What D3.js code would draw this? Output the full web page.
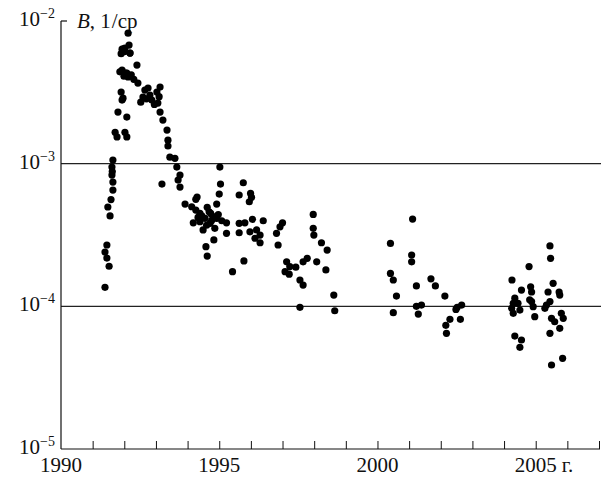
<!DOCTYPE html>
<html>
<head>
<meta charset="utf-8">
<script src="https://cdn.jsdelivr.net/npm/d3@7/dist/d3.min.js"></script>
<style>
  html, body { margin: 0; padding: 0; background: #fff; }
  svg { display: block; }
</style>
</head>
<body>
<svg id="chart" width="607" height="477"></svg>
<script>
// Observation epochs (decimal years) and measured B, 1/sr
const epoch = [
  // 1991 rise
  1991.64, 1991.61, 1991.61, 1991.64, 1991.64, 1991.48, 1991.55, 1991.45, 1991.39, 1991.45, 1991.52, 1991.39,
  1991.58, 1991.62,
  // 1992 maximum
  1991.71, 1991.77, 1992.02, 1992.08, 1991.80, 1992.08, 1991.90, 1991.96, 1991.93,
  1991.93, 1992.08, 1991.86, 1991.96, 1992.18, 1991.93, 1992.02, 1992.18, 1992.15, 1992.12, 1992.40, 1992.05,
  1991.99, 1992.12, 1991.90, 1992.22, 1992.30, 1992.00,
  // 1992-1993 decline
  1992.43, 1992.65, 1992.81, 1993.03, 1993.13, 1992.87, 1993.06, 1993.13, 1993.22, 1993.35, 1993.38, 1993.38,
  1992.59, 1992.75, 1992.52, 1992.70, 1992.95, 1993.10,
  // 1993-1994
  1993.44, 1993.60, 1993.66, 1993.76, 1993.76, 1993.19, 1993.70, 1994.30,
  // 1994-1996
  1995.04, 1995.02, 1995.76, 1995.00, 1995.63, 1995.99, 1996.02, 1995.95,
  1993.92, 1994.26, 1994.13, 1994.26, 1994.39, 1994.62, 1994.92, 1994.73, 1994.81, 1994.55,
  1994.18, 1994.39, 1994.71, 1994.92, 1995.08, 1995.23, 1994.49, 1994.86, 1995.23, 1994.83,
  1994.58, 1994.62, 1995.42, 1995.78,
  1995.63, 1995.81, 1996.05, 1996.39, 1995.63, 1995.97, 1996.18, 1996.29, 1996.13, 1996.29,
  1994.45, 1994.68, 1994.76, 1994.60, 1994.97, 1994.33,
  // 1996-1998
  1996.86, 1996.81, 1996.92, 1997.00, 1997.13, 1997.23, 1997.08, 1997.21, 1997.42, 1997.65,
  1997.78, 1997.55, 1997.65, 1997.97, 1997.97, 1997.99, 1998.23, 1998.41, 1998.08, 1998.37,
  1998.62, 1997.55, 1998.65,
  // 2000-2002
  2001.11, 2000.41, 2001.08, 2001.08, 2000.41, 2000.50, 2001.23, 2001.69, 2001.83, 2002.13,
  2000.60, 2001.23, 2001.39, 2001.29, 2000.50, 2002.52, 2002.66, 2002.48, 2002.62, 2002.29,
  2002.16, 2002.18,
  // 2004-2006
  2005.45, 2005.47, 2004.79, 2004.25, 2004.55, 2004.84, 2004.87, 2005.55, 2005.39, 2005.74,
  2005.76, 2004.34, 2004.29, 2004.24, 2004.29, 2004.50, 2004.44, 2004.81, 2004.92, 2004.87,
  2005.34, 2005.45, 2005.29, 2004.97, 2005.50, 2005.81, 2005.87, 2005.60, 2005.76, 2005.45,
  2004.34, 2004.55, 2004.50, 2005.85, 2005.50
];

const bValue = [
  1.06e-3, 9.46e-4, 8.32e-4, 7.43e-4, 6.53e-4, 4.97e-4, 4.30e-4, 2.69e-4, 2.40e-4, 2.18e-4, 1.91e-4, 1.36e-4,
  5.60e-4, 8.80e-4,
  1.66e-3, 1.54e-3, 1.66e-3, 1.54e-3, 2.30e-3, 2.12e-3, 3.18e-3, 2.88e-3, 2.79e-3,
  4.53e-3, 4.31e-3, 4.40e-3, 6.35e-3, 5.96e-3, 6.35e-3, 6.46e-3, 5.96e-3, 6.78e-3, 8.22e-3, 4.91e-3, 4.31e-3,
  4.10e-3, 4.05e-3, 5.90e-3, 4.20e-3, 3.90e-3, 6.10e-3,
  3.67e-3, 3.28e-3, 3.03e-3, 3.18e-3, 3.44e-3, 2.79e-3, 2.66e-3, 2.30e-3, 2.02e-3, 1.72e-3, 1.46e-3, 1.33e-3,
  2.93e-3, 3.39e-3, 2.70e-3, 2.85e-3, 2.60e-3, 2.95e-3,
  1.11e-3, 1.09e-3, 9.46e-4, 8.32e-4, 6.85e-4, 7.19e-4, 7.67e-4, 5.83e-4,
  7.19e-4, 9.46e-4, 7.35e-4, 6.12e-4, 6.03e-4, 6.19e-4, 5.81e-4, 5.41e-4,
  5.21e-4, 5.62e-4, 4.99e-4, 4.73e-4, 4.48e-4, 4.94e-4, 5.21e-4, 4.48e-4, 4.25e-4, 4.14e-4,
  3.85e-4, 3.92e-4, 3.82e-4, 4.14e-4, 3.98e-4, 3.85e-4, 3.43e-4, 3.52e-4, 3.25e-4, 2.92e-4,
  2.62e-4, 2.25e-4, 1.75e-4, 2.08e-4,
  3.82e-4, 3.85e-4, 4.07e-4, 3.98e-4, 3.28e-4, 3.33e-4, 3.43e-4, 3.16e-4, 3.00e-4, 2.79e-4,
  4.30e-4, 4.60e-4, 4.00e-4, 3.70e-4, 4.40e-4, 4.20e-4,
  2.69e-4, 3.25e-4, 3.61e-4, 3.85e-4, 2.05e-4, 1.90e-4, 1.75e-4, 1.68e-4, 1.88e-4, 2.05e-4,
  2.17e-4, 1.53e-4, 1.41e-4, 4.41e-4, 3.52e-4, 3.16e-4, 2.79e-4, 2.48e-4, 2.05e-4, 1.80e-4,
  1.20e-4, 9.84e-5, 9.31e-5,
  4.09e-4, 2.76e-4, 2.29e-4, 2.05e-4, 1.70e-4, 1.53e-4, 1.39e-4, 1.56e-4, 1.39e-4, 1.18e-4,
  1.18e-4, 1.00e-4, 1.02e-4, 8.83e-5, 9.02e-5, 9.84e-5, 1.02e-4, 9.52e-5, 8.11e-5, 8.11e-5,
  7.36e-5, 6.47e-5,
  2.65e-4, 2.17e-4, 1.90e-4, 1.53e-4, 1.30e-4, 1.37e-4, 1.26e-4, 1.45e-4, 1.26e-4, 1.26e-4,
  1.20e-4, 1.14e-4, 1.05e-4, 9.68e-5, 8.93e-5, 9.42e-5, 1.05e-4, 1.11e-4, 9.94e-5, 1.08e-4,
  1.02e-4, 1.08e-4, 9.68e-5, 8.46e-5, 8.24e-5, 8.93e-5, 8.24e-5, 7.80e-5, 7.01e-5, 6.47e-5,
  6.19e-5, 5.81e-5, 5.16e-5, 4.32e-5, 3.88e-5
];

const yearTicks = d3.range(1991, 2008);
const yearLabels = [1990, 1995, 2000, 2005];
const decadeExp = [-2, -3, -4, -5];
const refLevels = [1e-3, 1e-4];

const svg = d3.select("#chart");
const plotLeft = 61, plotRight = 599, plotTop = 21, plotBottom = 449;
const ink = "#111";
const serif = '"Liberation Serif"';

const x = d3.scaleLinear().domain([1990, 2007]).range([plotLeft, plotRight]);
const y = d3.scaleLog().domain([1e-5, 1e-2]).range([plotBottom, plotTop]);

// reference levels
svg.append("g").selectAll("line").data(refLevels).join("line")
  .attr("x1", plotLeft).attr("x2", 601)
  .attr("y1", d => y(d)).attr("y2", d => y(d))
  .attr("stroke", "#222").attr("stroke-width", 1.2);

// bottom axis with inward ticks
const xAxis = d3.axisTop(x).tickValues(yearTicks).tickSize(8).tickFormat("");
const gx = svg.append("g").attr("transform", `translate(0,${plotBottom})`).call(xAxis);
gx.select(".domain").remove();
gx.selectAll(".tick line").attr("stroke", ink).attr("stroke-width", 1);

svg.append("line").attr("x1", plotLeft).attr("x2", plotRight + 1)
  .attr("y1", plotBottom).attr("y2", plotBottom).attr("stroke", ink).attr("stroke-width", 1.2);
svg.append("line").attr("x1", plotLeft).attr("x2", plotLeft)
  .attr("y1", plotTop).attr("y2", plotBottom).attr("stroke", ink).attr("stroke-width", 1.2);
svg.append("line").attr("x1", plotLeft).attr("x2", plotLeft + 6)
  .attr("y1", plotTop).attr("y2", plotTop).attr("stroke", ink).attr("stroke-width", 1.2);

// year labels
const yearText = svg.append("g").selectAll("text").data(yearLabels).join("text")
  .attr("x", d => x(d)).attr("y", 472)
  .attr("text-anchor", "middle")
  .style("font-family", serif)
  .style("font-size", "21px")
  .style("fill", ink)
  .text(d => d);
const w2005 = yearText.filter(d => d === 2005).node().getComputedTextLength();
svg.append("text").attr("x", x(2005) + w2005 / 2 + 5).attr("y", 472)
  .style("font-family", serif).style("font-size", "21px").style("fill", ink)
  .text("г.");

// decade labels 10^k
const yl = svg.append("g").selectAll("text").data(decadeExp).join("text")
  .attr("x", 55).attr("y", d => y(Math.pow(10, d)) + 5)
  .attr("text-anchor", "end")
  .style("font-family", serif)
  .style("font-size", "21px")
  .style("fill", ink);
yl.append("tspan").text("10");
yl.append("tspan").style("font-size", "14px").attr("dy", -8).text(d => "\u2212" + Math.abs(d));

// quantity label
const title = svg.append("text").attr("x", 77).attr("y", 28)
  .style("font-family", serif).style("font-size", "21px").style("fill", ink);
title.append("tspan").style("font-style", "italic").text("B");
title.append("tspan").text(", 1");
title.append("tspan").attr("dx", 1).text("/");
title.append("tspan").text("cp");

// measurements
svg.append("g").selectAll("circle").data(epoch).join("circle")
  .attr("cx", d => x(d))
  .attr("cy", (d, i) => y(bValue[i]))
  .attr("r", 3.6)
  .attr("fill", "#000");
</script>
</body>
</html>
